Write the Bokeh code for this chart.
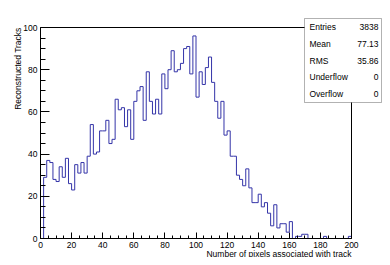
import numpy as np
from math import pi
from bokeh.plotting import figure
from bokeh.models import Range1d, SingleIntervalTicker, Label, BoxAnnotation
from bokeh.embed import file_html
from bokeh.resources import INLINE

# ---- data ----
bin_edges = list(range(0, 202, 2))
counts = [0, 29, 37, 36, 28, 27, 34, 29, 38, 26,
          23, 35, 31, 36, 31, 39, 54, 40, 41, 51,
          51, 56, 45, 47, 66, 61, 62, 53, 61, 47,
          65, 70, 72, 56, 79, 65, 59, 66, 59, 78,
          71, 80, 89, 79, 80, 83, 90, 91, 78, 96,
          67, 79, 73, 81, 86, 74, 65, 57, 65, 49,
          51, 39, 39, 30, 28, 25, 33, 24, 17, 17,
          21, 15, 17, 12, 6, 16, 5, 7, 7, 3,
          8, 0, 1, 1, 2, 2, 0, 0, 0, 0,
          0, 1, 0, 0, 0, 0, 0, 0, 0, 1]
stat_names = ["Entries", "Mean", "RMS", "Underflow", "Overflow"]
stat_values = ["3838", "77.13", "35.86", "0", "0"]
x_title = "Number of pixels associated with track"
y_title = "Reconstructed Tracks"

FONT = "Liberation Sans"
FS = "8.5px"
LINE = "#3434a8"

# figure / frame geometry in pixels
W, H = 382, 257
FL, FT, FR, FB = 40, 27, 351, 238          # axes box (left, top, right, bottom)
XMIN, XMAX, YMIN, YMAX = 0, 200, 0, 100
xs_ = (FR - FL) / (XMAX - XMIN)
ys_ = (FB - FT) / (YMAX - YMIN)


def dx(px):
    return XMIN + (px - FL) / xs_


def dy(py):
    return YMIN + (FB - py) / ys_


p = figure(frame_width=W, frame_height=H,
           x_range=Range1d(dx(0), dx(W)), y_range=Range1d(dy(H), dy(0)),
           output_backend="svg", toolbar_location=None,
           min_border_left=0, min_border_top=0,
           min_border_right=0, min_border_bottom=0)
p.background_fill_color = "white"
p.border_fill_color = "white"
p.outline_line_color = None
p.xgrid.visible = False
p.ygrid.visible = False

# axes box top & right edges
p.line([XMIN, XMAX, XMAX], [YMAX, YMAX, YMIN], line_color="black", line_width=1)

# histogram outline
e = np.array(bin_edges, dtype=float)
c = np.array(counts, dtype=float)
hx = np.concatenate([[e[0]], np.repeat(e, 2)[1:-1], [e[-1]]])
hy = np.concatenate([[0], np.repeat(c, 2), [0]])
p.line(hx, hy, line_color=LINE, line_width=1)

# axes
for ax, major, minor, loc, bnds in ((p.xaxis[0], 6, 3, YMIN, (XMIN, XMAX)),
                                    (p.yaxis[0], 9, 5, XMIN, (YMIN, YMAX))):
    ax.fixed_location = loc
    ax.bounds = bnds
    ax.ticker = SingleIntervalTicker(interval=20, num_minor_ticks=4)
    ax.axis_line_color = "black"
    ax.major_tick_line_color = "black"
    ax.minor_tick_line_color = "black"
    ax.major_tick_in = major
    ax.major_tick_out = 0
    ax.minor_tick_in = minor
    ax.minor_tick_out = 0
    ax.major_label_text_font = FONT
    ax.major_label_text_font_size = FS
    ax.major_label_text_color = "black"
    ax.major_label_standoff = 3

# axis titles
p.add_layout(Label(x=dx(FR), y=dy(253), text=x_title, text_align="right",
                   text_baseline="middle", text_font=FONT, text_font_size=FS,
                   text_color="black"))
p.add_layout(Label(x=dx(17), y=dy(FT), text=y_title, angle=pi / 2,
                   text_align="right", text_baseline="middle", text_font=FONT,
                   text_font_size=FS, text_color="black"))

# stats box
BL, BR, BT, BB = 304, 381, 18, 102
p.add_layout(BoxAnnotation(left=dx(BL), right=dx(BR), top=dy(BT), bottom=dy(BB),
                           fill_color="white", fill_alpha=1.0,
                           line_color="black", line_width=1, level="overlay"))
row_h = (BB - BT) / len(stat_names)
for i, (n, v) in enumerate(zip(stat_names, stat_values)):
    yy = dy(BT + (i + 0.5) * row_h)
    p.add_layout(Label(x=dx(BL + 5), y=yy, text=n, text_align="left",
                       text_baseline="middle", text_font=FONT, text_font_size=FS,
                       text_color="black", level="overlay"))
    p.add_layout(Label(x=dx(BR - 3), y=yy, text=v, text_align="right",
                       text_baseline="middle", text_font=FONT, text_font_size=FS,
                       text_color="black", level="overlay"))

open("out.html", "w").write(file_html(p, INLINE))
